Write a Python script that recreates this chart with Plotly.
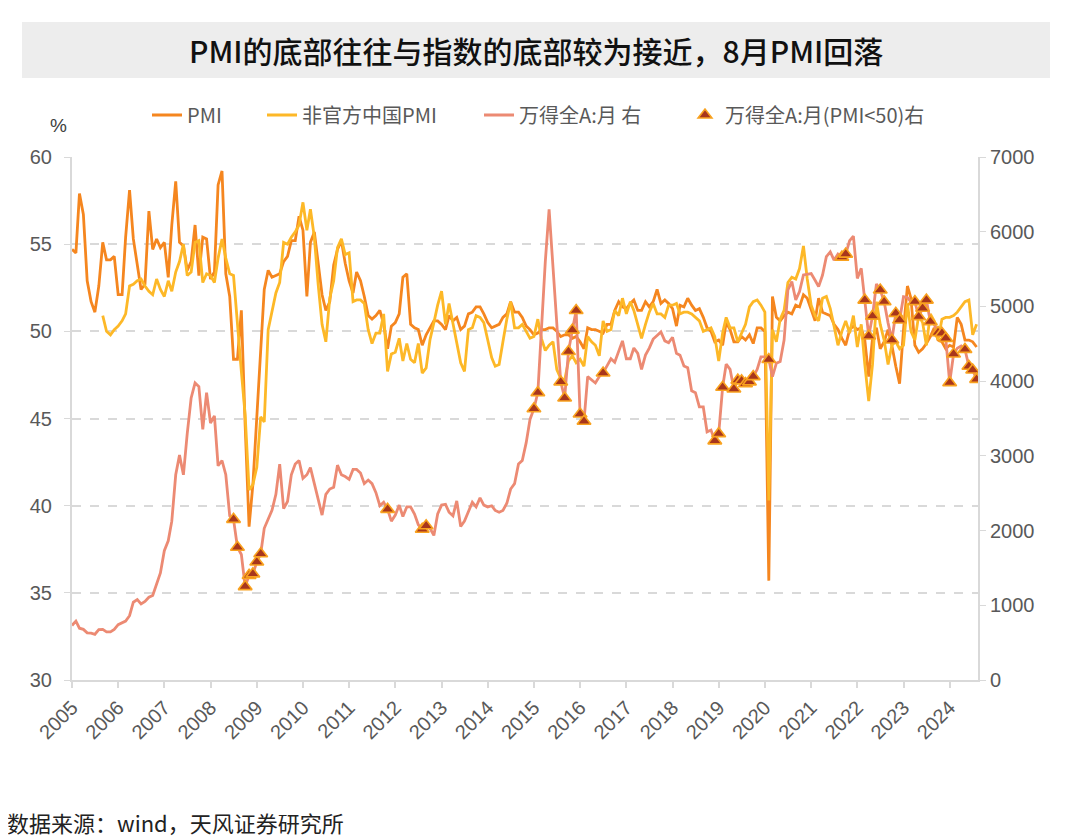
import pandas as pd
import plotly.graph_objects as go

# ---------------- data ----------------
months = pd.date_range("2005-01-01", periods=236, freq="MS")

pmi_official = [
    54.7, 54.5, 57.9, 56.7, 52.9, 51.7, 51.1, 52.6, 55.1, 54.1, 54.1, 54.3,   # 2005
    52.1, 52.1, 55.4, 58.1, 55.3, 53.9, 52.4, 52.7, 56.9, 54.7, 55.3, 54.8,   # 2006
    55.1, 53.1, 56.1, 58.6, 55.1, 54.9, 53.5, 54.0, 56.1, 53.2, 55.4, 55.3,   # 2007
    53.0, 53.4, 58.4, 59.2, 53.3, 52.0, 48.4, 48.4, 51.2, 44.6, 38.8, 41.2,   # 2008
    45.3, 49.0, 52.4, 53.5, 53.1, 53.2, 53.3, 54.0, 54.3, 55.2, 55.2, 56.6,   # 2009
    55.8, 52.0, 55.1, 55.7, 53.9, 52.1, 51.2, 51.7, 53.8, 54.7, 55.2, 53.9,   # 2010
    52.9, 52.2, 53.4, 52.9, 52.0, 50.9, 50.7, 50.9, 51.2, 50.4, 49.0, 50.3,   # 2011
    50.5, 51.0, 53.1, 53.3, 50.4, 50.2, 50.1, 49.2, 49.8, 50.2, 50.6, 50.6,   # 2012
    50.4, 50.1, 50.9, 50.6, 50.8, 50.1, 50.3, 51.0, 51.1, 51.4, 51.4, 51.0,   # 2013
    50.5, 50.2, 50.3, 50.4, 50.8, 51.0, 51.7, 51.1, 51.1, 50.8, 50.3, 50.1,   # 2014
    49.8, 49.9, 50.1, 50.1, 50.2, 50.2, 50.0, 49.7, 49.8, 49.8, 49.6, 49.7,   # 2015
    49.4, 49.0, 50.2, 50.1, 50.1, 50.0, 49.9, 50.4, 50.4, 51.2, 51.7, 51.4,   # 2016
    51.3, 51.6, 51.8, 51.2, 51.2, 51.7, 51.4, 51.7, 52.4, 51.6, 51.8, 51.6,   # 2017
    51.3, 50.3, 51.5, 51.4, 51.9, 51.5, 51.2, 51.3, 50.8, 50.2, 50.0, 49.4,   # 2018
    49.5, 49.2, 50.5, 50.1, 49.4, 49.4, 49.7, 49.5, 49.8, 49.3, 50.2, 50.2,   # 2019
    50.0, 35.7, 52.0, 50.8, 50.6, 50.9, 51.1, 51.0, 51.5, 51.4, 52.1, 51.9,   # 2020
    51.3, 50.6, 51.9, 51.1, 51.0, 50.9, 50.4, 50.1, 49.6, 49.2, 50.1, 50.3,   # 2021
    50.1, 50.2, 49.5, 47.4, 49.6, 50.2, 49.0, 49.4, 50.1, 49.2, 48.0, 47.0,   # 2022
    50.1, 52.6, 51.9, 49.2, 48.8, 49.0, 49.3, 49.7, 50.2, 49.5, 49.4, 49.0,   # 2023
    49.2, 49.1, 50.8, 50.4, 49.5, 49.5, 49.4, 49.1,                           # 2024
]

pmi_unofficial = [
    None, None, None, None, None, None, None, None, 50.9, 50.0, 49.8, 50.1,   # 2005
    50.3, 50.6, 51.0, 52.6, 52.7, 52.9, 53.0, 52.6, 52.3, 52.1, 53.0, 52.4,   # 2006
    52.0, 52.9, 52.3, 53.4, 54.0, 55.0, 53.2, 53.4, 55.1, 55.2, 52.8, 53.3,   # 2007
    53.2, 52.8, 54.2, 55.3, 54.2, 53.3, 53.2, 50.2, 47.7, 45.2, 40.9, 41.2,   # 2008
    42.2, 45.1, 44.8, 50.1, 51.2, 52.2, 52.8, 55.1, 55.0, 55.4, 55.7, 56.1,   # 2009
    57.4, 55.8, 57.0, 55.4, 52.7, 50.4, 49.4, 51.9, 52.9, 54.8, 55.3, 54.4,   # 2010
    54.5, 51.7, 51.8, 51.8, 51.6, 50.1, 49.3, 49.9, 49.9, 51.0, 47.7, 48.7,   # 2011
    48.8, 49.6, 48.3, 49.3, 48.4, 48.2, 49.3, 47.6, 47.9, 49.5, 50.5, 51.5,   # 2012
    52.3, 50.4, 51.6, 50.4, 49.2, 48.2, 47.7, 50.1, 50.2, 50.9, 50.8, 50.5,   # 2013
    49.5, 48.5, 48.0, 48.1, 49.4, 50.7, 51.7, 50.2, 50.2, 50.4, 50.0, 49.6,   # 2014
    49.7, 50.7, 49.6, 48.9, 49.2, 49.4, 47.8, 47.3, 47.2, 48.3, 48.6, 48.2,   # 2015
    48.4, 48.0, 49.7, 49.4, 49.2, 48.6, 50.6, 50.0, 50.1, 51.2, 50.9, 51.9,   # 2016
    51.0, 51.7, 51.2, 50.3, 49.6, 50.4, 51.1, 51.6, 51.0, 51.0, 50.8, 51.5,   # 2017
    51.5, 51.6, 51.0, 51.1, 51.1, 51.0, 50.8, 50.6, 50.0, 50.1, 50.2, 49.7,   # 2018
    48.3, 49.9, 50.8, 50.2, 50.2, 49.4, 49.9, 50.4, 51.4, 51.7, 51.8, 51.5,   # 2019
    51.1, 40.3, 50.1, 49.4, 50.7, 51.2, 52.8, 53.1, 53.0, 53.6, 54.9, 53.0,   # 2020
    51.5, 50.9, 50.6, 51.9, 52.0, 51.3, 50.3, 49.2, 50.0, 50.6, 49.9, 50.9,   # 2021
    49.1, 50.4, 48.1, 46.0, 48.1, 51.7, 50.4, 49.5, 48.1, 49.2, 49.4, 49.0,   # 2022
    49.2, 51.6, 50.0, 49.5, 50.9, 50.5, 49.2, 51.0, 50.6, 49.5, 50.7, 50.8,   # 2023
    50.8, 50.9, 51.1, 51.4, 51.7, 51.8, 49.8, 50.4,                           # 2024
]

wind_all_a = [
    730, 788, 693, 678, 632, 628, 612, 675, 678, 645, 645, 678,              # 2005
    740, 765, 788, 860, 1041, 1075, 1018, 1051, 1108, 1132, 1290, 1433,      # 2006
    1730, 1863, 2126, 2747, 3010, 2747, 3297, 3775, 3975, 3927, 3354, 3846,  # 2007
    3440, 3535, 2867, 2938, 2747, 2198, 2150, 1777, 1680, 1250, 1400, 1420,  # 2008
    1580, 1690, 2031, 2150, 2270, 2485, 2890, 2293, 2389, 2747, 2890, 2938,  # 2009
    2700, 2747, 2843, 2628, 2437, 2207, 2485, 2556, 2580, 2876, 2747, 2723,  # 2010
    2685, 2819, 2819, 2771, 2628, 2676, 2628, 2508, 2332, 2380, 2284, 2126,  # 2011
    2207, 2341, 2188, 2317, 2317, 2222, 2078, 2017, 2064, 2030, 1935, 2222,  # 2012
    2341, 2351, 2246, 2198, 2398, 2054, 2126, 2246, 2379, 2317, 2437, 2341,  # 2013
    2317, 2332, 2270, 2246, 2270, 2365, 2556, 2628, 2890, 2938, 3177, 3488,  # 2014
    3631, 3846, 4750, 5600, 6300, 5500, 4650, 3990, 3775, 4396, 4683, 4945,  # 2015
    3560, 3464, 4061, 4013, 3975, 4061, 4109, 4204, 4300, 4252, 4396, 4539,  # 2016
    4300, 4300, 4443, 4372, 4157, 4348, 4443, 4563, 4611, 4659, 4539, 4515,  # 2017
    4587, 4372, 4348, 4204, 4181, 3870, 3846, 3655, 3655, 3321, 3345, 3201,  # 2018
    3297, 3918, 4228, 4157, 3894, 4013, 4004, 3966, 3990, 4061, 4157, 4324,  # 2019
    4324, 4290, 4060, 4240, 4262, 4550, 5220, 5333, 5087, 5198, 5421, 5435,  # 2020
    5440, 5350, 5265, 5420, 5665, 5730, 5620, 5700, 5660, 5700, 5880, 5940,  # 2021
    5375, 5510, 5085, 4604, 4870, 5300, 5220, 5064, 4780, 4550, 4907, 4818,  # 2022
    5130, 5120, 5060, 5064, 4863, 4975, 5085, 4796, 4760, 4650, 4640, 4573,  # 2023
    3980, 4363, 4440, 4470, 4425, 4200, 4150, 4024,                          # 2024
]

# index value marked only where official PMI < 50
wind_all_a_pmi_below_50 = [w if p < 50 else None for p, w in zip(pmi_official, wind_all_a)]

title_text = "PMI的底部往往与指数的底部较为接近，8月PMI回落"
source_text = "数据来源：wind，天风证券研究所"

# ---------------- figure ----------------
CJK = "Noto Sans CJK SC, Liberation Sans, sans-serif"
TICKFONT = dict(family="Liberation Sans Narrow, Liberation Sans, Arial, sans-serif", size=20, color="#595959")
GRID = "#d9d9d9"

# the page adds an 8px body margin, so the figure is drawn 8px right/down of the window origin
OFF = 8
W, H = 1080 - OFF, 839 - OFF
PL, PR, PT, PB = 72, 978, 157, 680          # plot area in window pixels
L, R, T, B = PL - OFF, W - (PR - OFF), PT - OFF, H - (PB - OFF)
pw, ph = PR - PL, PB - PT


def px_x(sx):
    return (sx - PL) / pw


def px_y(sy):
    return (PB - sy) / ph


fig = go.Figure()
fig.add_trace(go.Scatter(x=months, y=pmi_official, name="PMI", mode="lines",
                         line=dict(color="#F5861F", width=2.8), legend="legend"))
fig.add_trace(go.Scatter(x=months, y=pmi_unofficial, name="非官方中国PMI", mode="lines",
                         line=dict(color="#FDB827", width=2.8), legend="legend2"))
fig.add_trace(go.Scatter(x=months, y=wind_all_a, name="万得全A:月 右", mode="lines", yaxis="y2",
                         line=dict(color="#EC8A73", width=2.8), legend="legend3"))
fig.add_trace(go.Scatter(x=months, y=wind_all_a_pmi_below_50, name="万得全A:月(PMI<50)右", mode="markers",
                         yaxis="y2",
                         marker=dict(symbol="triangle-up", size=12, color="#A8361C",
                                     line=dict(color="#F9A21F", width=1.6)),
                         legend="legend4"))

leg_common = dict(orientation="h", yanchor="middle", xanchor="left", y=px_y(115),
                  bgcolor="rgba(0,0,0,0)", font=dict(family=CJK, size=20, color="#595959"),
                  itemwidth=30)

fig.update_layout(
    width=W, height=H,
    margin=dict(l=L, r=R, t=T, b=B),
    paper_bgcolor="white", plot_bgcolor="white",
    showlegend=True,
    legend=dict(x=px_x(147), **leg_common),
    legend2=dict(x=px_x(262), **leg_common),
    legend3=dict(x=px_x(479), **leg_common),
    legend4=dict(x=px_x(685), **leg_common),
    xaxis=dict(type="date", range=["2005-01-01", "2024-08-12"], tickformat="%Y", dtick="M12",
               tick0="2005-01-01", tickangle=-45, ticks="outside", ticklen=6, tickcolor=GRID,
               tickwidth=1.5, showline=True, linecolor=GRID, linewidth=2, showgrid=False,
               tickfont=TICKFONT, zeroline=False),
    yaxis=dict(range=[30, 60], dtick=5, tick0=30, showgrid=True, gridcolor=GRID, griddash="dash",
               gridwidth=1.6, showline=True, linecolor=GRID, linewidth=2, ticks="outside", ticklen=6,
               tickcolor=GRID, tickfont=TICKFONT, zeroline=False, ticklabelstandoff=8),
    yaxis2=dict(range=[0, 7000], dtick=1000, tick0=0, overlaying="y", side="right", showgrid=False,
                showline=True, linecolor=GRID, linewidth=2, ticks="outside", ticklen=6,
                tickcolor=GRID, tickfont=TICKFONT, zeroline=False),
)

# title band
fig.add_shape(type="rect", xref="paper", yref="paper",
              x0=px_x(22), x1=px_x(1050), y0=px_y(78), y1=px_y(22),
              fillcolor="#EDEDED", line=dict(width=0), layer="below")
fig.add_annotation(xref="paper", yref="paper", x=px_x(536), y=px_y(50), text=title_text,
                   showarrow=False, xanchor="center", yanchor="middle",
                   font=dict(family=CJK, size=30, color="#111111", weight=500))
fig.add_annotation(xref="paper", yref="paper", x=px_x(58), y=px_y(125), text="%",
                   showarrow=False, xanchor="center", yanchor="middle",
                   font=dict(family="Liberation Sans, Arial, sans-serif", size=19, color="#404040"))
fig.add_annotation(xref="paper", yref="paper", x=px_x(5), y=px_y(822), text=source_text,
                   showarrow=False, xanchor="left", yanchor="middle",
                   font=dict(family=CJK, size=22, color="#222222"))

fig.write_html("out.html")
